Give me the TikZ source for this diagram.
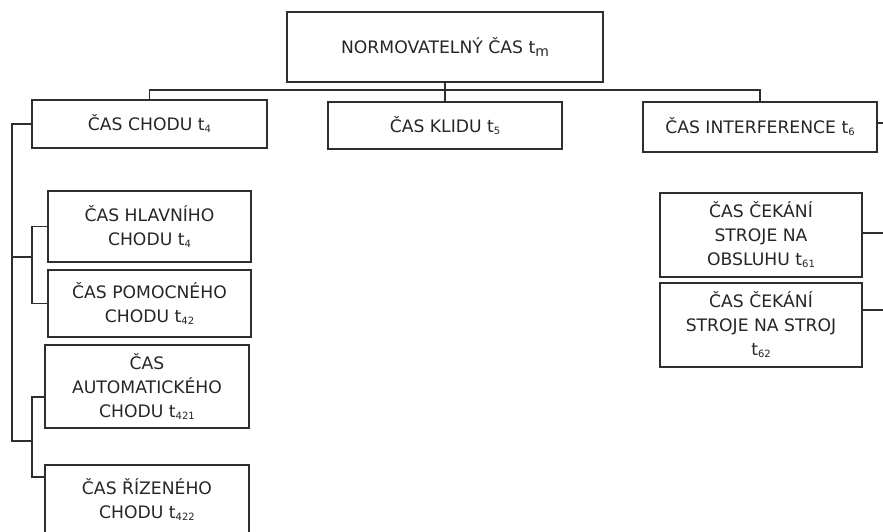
\documentclass[tikz,border=0pt]{standalone}
\usepackage{fontspec}
\setmainfont{DejaVu Sans}
\definecolor{ink}{HTML}{2E2E2E}
\definecolor{txt}{HTML}{262626}
% small lowered index after a quantity symbol
\newcommand{\sbs}[1]{\raisebox{-2pt}{\fontsize{10}{10}\selectfont #1}}
\begin{document}
\begin{tikzpicture}[x=1pt,y=-1pt,
  box/.style={draw=ink, line width=1.3pt, rectangle, inner sep=0pt,
    text=txt, align=center, font=\fontsize{17.2}{24}\selectfont},
  link/.style={draw=ink, line width=1.3pt}]
\useasboundingbox (0,0) rectangle (883,531);
\clip (0,0) rectangle (883,531);
\fill[white] (0,0) rectangle (883,531);

% top level
\node[box, minimum width=316pt, minimum height=70pt] (top) at (445,47)
  {NORMOVATELNÝ ČAS t\raisebox{-3pt}{\fontsize{14}{14}\selectfont m}};

% second level
\node[box, minimum width=235pt, minimum height=48pt] (chodu) at (149.5,124)
  {ČAS CHODU t\sbs{4}};
\node[box, minimum width=234pt, minimum height=47pt] (klidu) at (445,125.5)
  {ČAS KLIDU t\sbs{5}};
\node[box, minimum width=234pt, minimum height=50pt] (interf) at (760,127)
  {ČAS INTERFERENCE t\sbs{6}};

% running time breakdown
\node[box, minimum width=203pt, minimum height=71pt] (hlavni) at (149.5,226.5)
  {ČAS HLAVNÍHO\\CHODU t\sbs{4}};
\node[box, minimum width=203pt, minimum height=67pt] (pomoc) at (149.5,303.5)
  {ČAS POMOCNÉHO\\CHODU t\sbs{42}};
\node[box, minimum width=204pt, minimum height=83pt] (auto) at (147,386.5)
  {ČAS\\AUTOMATICKÉHO\\CHODU t\sbs{421}};
\node[box, minimum width=204pt, minimum height=70pt] (rizen) at (147,500)
  {ČAS ŘÍZENÉHO\\CHODU t\sbs{422}};

% interference breakdown
\node[box, minimum width=202pt, minimum height=84pt] (obsl) at (761,235)
  {ČAS ČEKÁNÍ\\STROJE NA\\OBSLUHU t\sbs{61}};
\node[box, minimum width=202pt, minimum height=84pt] (stroj) at (761,325)
  {ČAS ČEKÁNÍ\\STROJE NA STROJ\\t\sbs{62}};

% junction points
\coordinate (bus) at (445,90);
\coordinate (spine) at (12,124);
\coordinate (forkA) at (32,257);
\coordinate (forkB) at (32,441);
\coordinate (autoIn) at (45,397);
\coordinate (rIn) at (892,123);
\coordinate (rA) at (892,233);
\coordinate (rB) at (892,310);

% top-level links
\draw[link] (top.south) -- (klidu.north);
\draw[link] (chodu.north) |- (bus) -| (interf.north);

% left tree
\draw[link] (chodu.west) -- (spine) |- (forkB);
\draw[link] (spine |- forkA) -- (forkA);
\draw[link] (hlavni.west) -| (forkA) |- (pomoc.west);
\draw[link] (autoIn) -| (forkB) |- (rizen.west |- 0,477);

% right tree
\draw[link] (interf.east |- rIn) -- (rIn);
\draw[link] (obsl.east |- rA) -- (rA);
\draw[link] (stroj.east |- rB) -- (rB);
\end{tikzpicture}
\end{document}
